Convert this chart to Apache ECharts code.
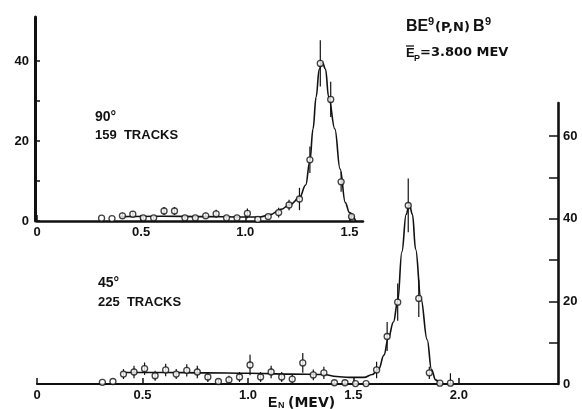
<!DOCTYPE html>
<html>
<head>
<meta charset="utf-8">
<script src="https://cdn.jsdelivr.net/npm/echarts@6/dist/echarts.min.js"></script>
<style>
  html, body { margin: 0; padding: 0; background: #fff; }
  #chart { width: 582px; height: 409px; }
</style>
</head>
<body>
<div id="chart"></div>
<script>
// 90 degree spectrum (159 tracks)
const e90   = [0.31,0.36,0.41,0.46,0.51,0.56,0.61,0.66,0.71,0.76,0.81,0.86,0.91,0.96,1.01,1.06,1.11,1.16,1.21,1.26,1.31,1.36,1.41,1.46,1.51];
const n90   = [0.7,0.6,1.3,1.7,0.8,0.8,2.5,2.5,0.8,0.8,1.3,1.8,0.8,0.8,1.9,0.4,1.1,2.1,4.0,5.5,15.3,39.4,30.4,9.8,1.1];
const err90 = [0,0,0.8,0.8,0.6,0.6,1,1,0.5,0.5,0.8,1,0.5,0.5,1.2,0.3,0.6,1.2,1.3,2.8,3.3,5.8,4.4,2.5,0.8];
const fit90E = [0.40,0.60,0.80,1.00,1.07,1.12,1.17,1.215,1.26,1.29,1.31,1.325,1.34,1.355,1.37,1.385,1.40,1.43,1.455,1.48,1.50,1.53];
const fit90N = [1.1,1.2,1.1,1.0,1.0,1.6,2.9,4.1,5.8,9,15,23,31,38,39.6,38,31,23,13,4.6,2.1,0];

// 45 degree spectrum (225 tracks)
const e45   = [0.31,0.36,0.41,0.46,0.51,0.56,0.61,0.66,0.71,0.76,0.81,0.86,0.91,0.96,1.01,1.06,1.11,1.16,1.21,1.26,1.31,1.36,1.41,1.46,1.51,1.56,1.61,1.66,1.71,1.76,1.81,1.86,1.91,1.96];
const n45   = [0.4,0.6,2.4,2.9,3.7,2.0,3.4,2.4,3.3,2.9,1.7,0.6,1.0,1.7,4.6,1.7,2.9,1.7,1.2,5.1,2.2,2.7,0.3,0.3,0.1,0.1,3.4,11.5,19.8,43.2,20.7,2.7,0.2,0.2];
const err45 = [0,0,1.2,1.5,1.5,1.2,1.5,1.2,1.5,1.5,1.2,0.6,1,1.2,2.5,1.2,1.5,1.2,1,2.4,1.3,1.5,0.5,0.5,0,0,2,3.5,4.5,6.5,4.5,1.5,0.4,2.4];
const fit45E = [0.40,0.60,0.80,1.00,1.20,1.36,1.42,1.48,1.55,1.59,1.62,1.645,1.665,1.69,1.71,1.73,1.75,1.765,1.78,1.795,1.82,1.85,1.87,1.89,1.91];
const fit45N = [2.8,2.8,2.7,2.6,2.4,2.3,1.8,1.6,1.6,2.3,3.6,7,11,15,20,32,41,43.5,41,32.6,20.7,10.7,3.5,1,0];

const xTicks90 = [0,0.5,1.0,1.5];
const xTicks45 = [0,0.5,1.0,1.5,2.0];
const yTicks90 = [0,10,20,30,40];
const yLabels90 = [0,20,40];
const yTicks45 = [0,10,20,30,40,50,60];
const yLabels45 = [0,20,40,60];

const ink = '#111';
const FONT = 'Liberation Sans';
const WIDE = 'DejaVu Sans';
const zip = (a, b) => a.map((v, i) => [v, b[i]]);

const chart = echarts.init(document.getElementById('chart'), null, { renderer: 'canvas' });

function errBars(params, api){
  const x = api.value(0), y = api.value(1), e = api.value(2);
  if (!e) return null;
  const p1 = api.coord([x, Math.max(0, y - e)]);
  const p2 = api.coord([x, y + e]);
  return { type: 'line', shape: { x1: p1[0], y1: p1[1], x2: p2[0], y2: p2[1] },
           style: { stroke: ink, lineWidth: 1.2 } };
}

const xLabel = { color: ink, fontFamily: FONT, fontWeight: 'bold', fontSize: 13, margin: 5,
  formatter: v => v === 0 ? '0' : v.toFixed(1) };
const yLabel = { color: ink, fontFamily: FONT, fontWeight: 'bold', fontSize: 13 };

function txt(x, y, s, size, fam){
  return { type: 'text', x, y, style: { text: s, fill: ink, font: `bold ${size}px "${fam || FONT}"`,
    textAlign: 'left', textVerticalAlign: 'middle' } };
}

chart.setOption({
  animation: false,
  backgroundColor: '#fff',
  grid: [
    { left: 37, top: 17, width: 326, height: 204 },
    { left: 37, top: 103, width: 521, height: 281 }
  ],
  xAxis: [
    { type: 'value', gridIndex: 0, min: 0, max: 1.565,
      axisLine: { onZero: false, lineStyle: { color: ink, width: 2.5 } },
      axisTick: { inside: true, length: 6, customValues: xTicks90, lineStyle: { color: ink, width: 1.5 } },
      axisLabel: Object.assign({ customValues: xTicks90 }, xLabel),
      splitLine: { show: false } },
    { type: 'value', gridIndex: 1, min: 0, max: 2.47,
      axisLine: { onZero: false, lineStyle: { color: ink, width: 2.2 } },
      axisTick: { inside: true, length: 6, customValues: xTicks45, lineStyle: { color: ink, width: 1.5 } },
      axisLabel: Object.assign({ customValues: xTicks45 }, xLabel),
      splitLine: { show: false } }
  ],
  yAxis: [
    { type: 'value', gridIndex: 0, min: 0, max: 51, position: 'left', offset: 2,
      axisLine: { show: true, onZero: false, lineStyle: { color: ink, width: 3 } },
      axisTick: { show: true, inside: true, length: 5, customValues: yTicks90, lineStyle: { color: ink, width: 1.5 } },
      axisLabel: Object.assign({ customValues: yLabels90, margin: 6 }, yLabel),
      splitLine: { show: false } },
    { type: 'value', gridIndex: 1, min: 0, max: 68, position: 'right',
      axisLine: { show: true, onZero: false, lineStyle: { color: ink, width: 2.6 } },
      axisTick: { show: true, inside: true, length: 9, customValues: yTicks45, lineStyle: { color: ink, width: 1.5 } },
      axisLabel: Object.assign({ customValues: yLabels45, margin: 5 }, yLabel),
      splitLine: { show: false } }
  ],
  series: [
    { type: 'line', xAxisIndex: 0, yAxisIndex: 0, data: zip(fit90E, fit90N), smooth: 0.4, smoothMonotone: 'x',
      symbol: 'none', lineStyle: { color: ink, width: 1.6 }, z: 2 },
    { type: 'custom', xAxisIndex: 0, yAxisIndex: 0, renderItem: errBars,
      data: e90.map((x, i) => [x, n90[i], err90[i]]), z: 3 },
    { type: 'scatter', xAxisIndex: 0, yAxisIndex: 0, data: zip(e90, n90), symbol: 'circle', symbolSize: 6,
      itemStyle: { color: '#fff', borderColor: ink, borderWidth: 1.3 }, z: 4 },

    { type: 'line', xAxisIndex: 1, yAxisIndex: 1, data: zip(fit45E, fit45N), smooth: 0.4, smoothMonotone: 'x',
      symbol: 'none', lineStyle: { color: ink, width: 1.6 }, z: 2 },
    { type: 'custom', xAxisIndex: 1, yAxisIndex: 1, renderItem: errBars,
      data: e45.map((x, i) => [x, n45[i], err45[i]]), z: 3 },
    { type: 'scatter', xAxisIndex: 1, yAxisIndex: 1, data: zip(e45, n45), symbol: 'circle', symbolSize: 6,
      itemStyle: { color: '#fff', borderColor: ink, borderWidth: 1.3 }, z: 4 }
  ],
  graphic: [
    // reaction label
    txt(406, 27, 'BE', 16),
    txt(428, 22, '9', 11),
    txt(435, 28, '(P,N)', 13, WIDE),
    txt(473, 27, 'B', 16),
    txt(485, 22, '9', 11),
    txt(406, 53, 'E', 13),
    { type: 'line', shape: { x1: 406, y1: 46, x2: 414, y2: 46 }, style: { stroke: ink, lineWidth: 1.3 } },
    txt(414, 59, 'P', 9),
    txt(420, 53, '=3.800 MEV', 13, WIDE),
    // panel labels
    txt(95, 117, '90°', 14),
    txt(95, 135, '159  TRACKS', 13),
    txt(98, 283, '45°', 14),
    txt(98, 302, '225  TRACKS', 13),
    // x axis title
    txt(268, 403, 'E', 14),
    txt(278, 406, 'N', 9),
    txt(288, 403, '(MEV)', 14, WIDE)
  ]
});
</script>
</body>
</html>
